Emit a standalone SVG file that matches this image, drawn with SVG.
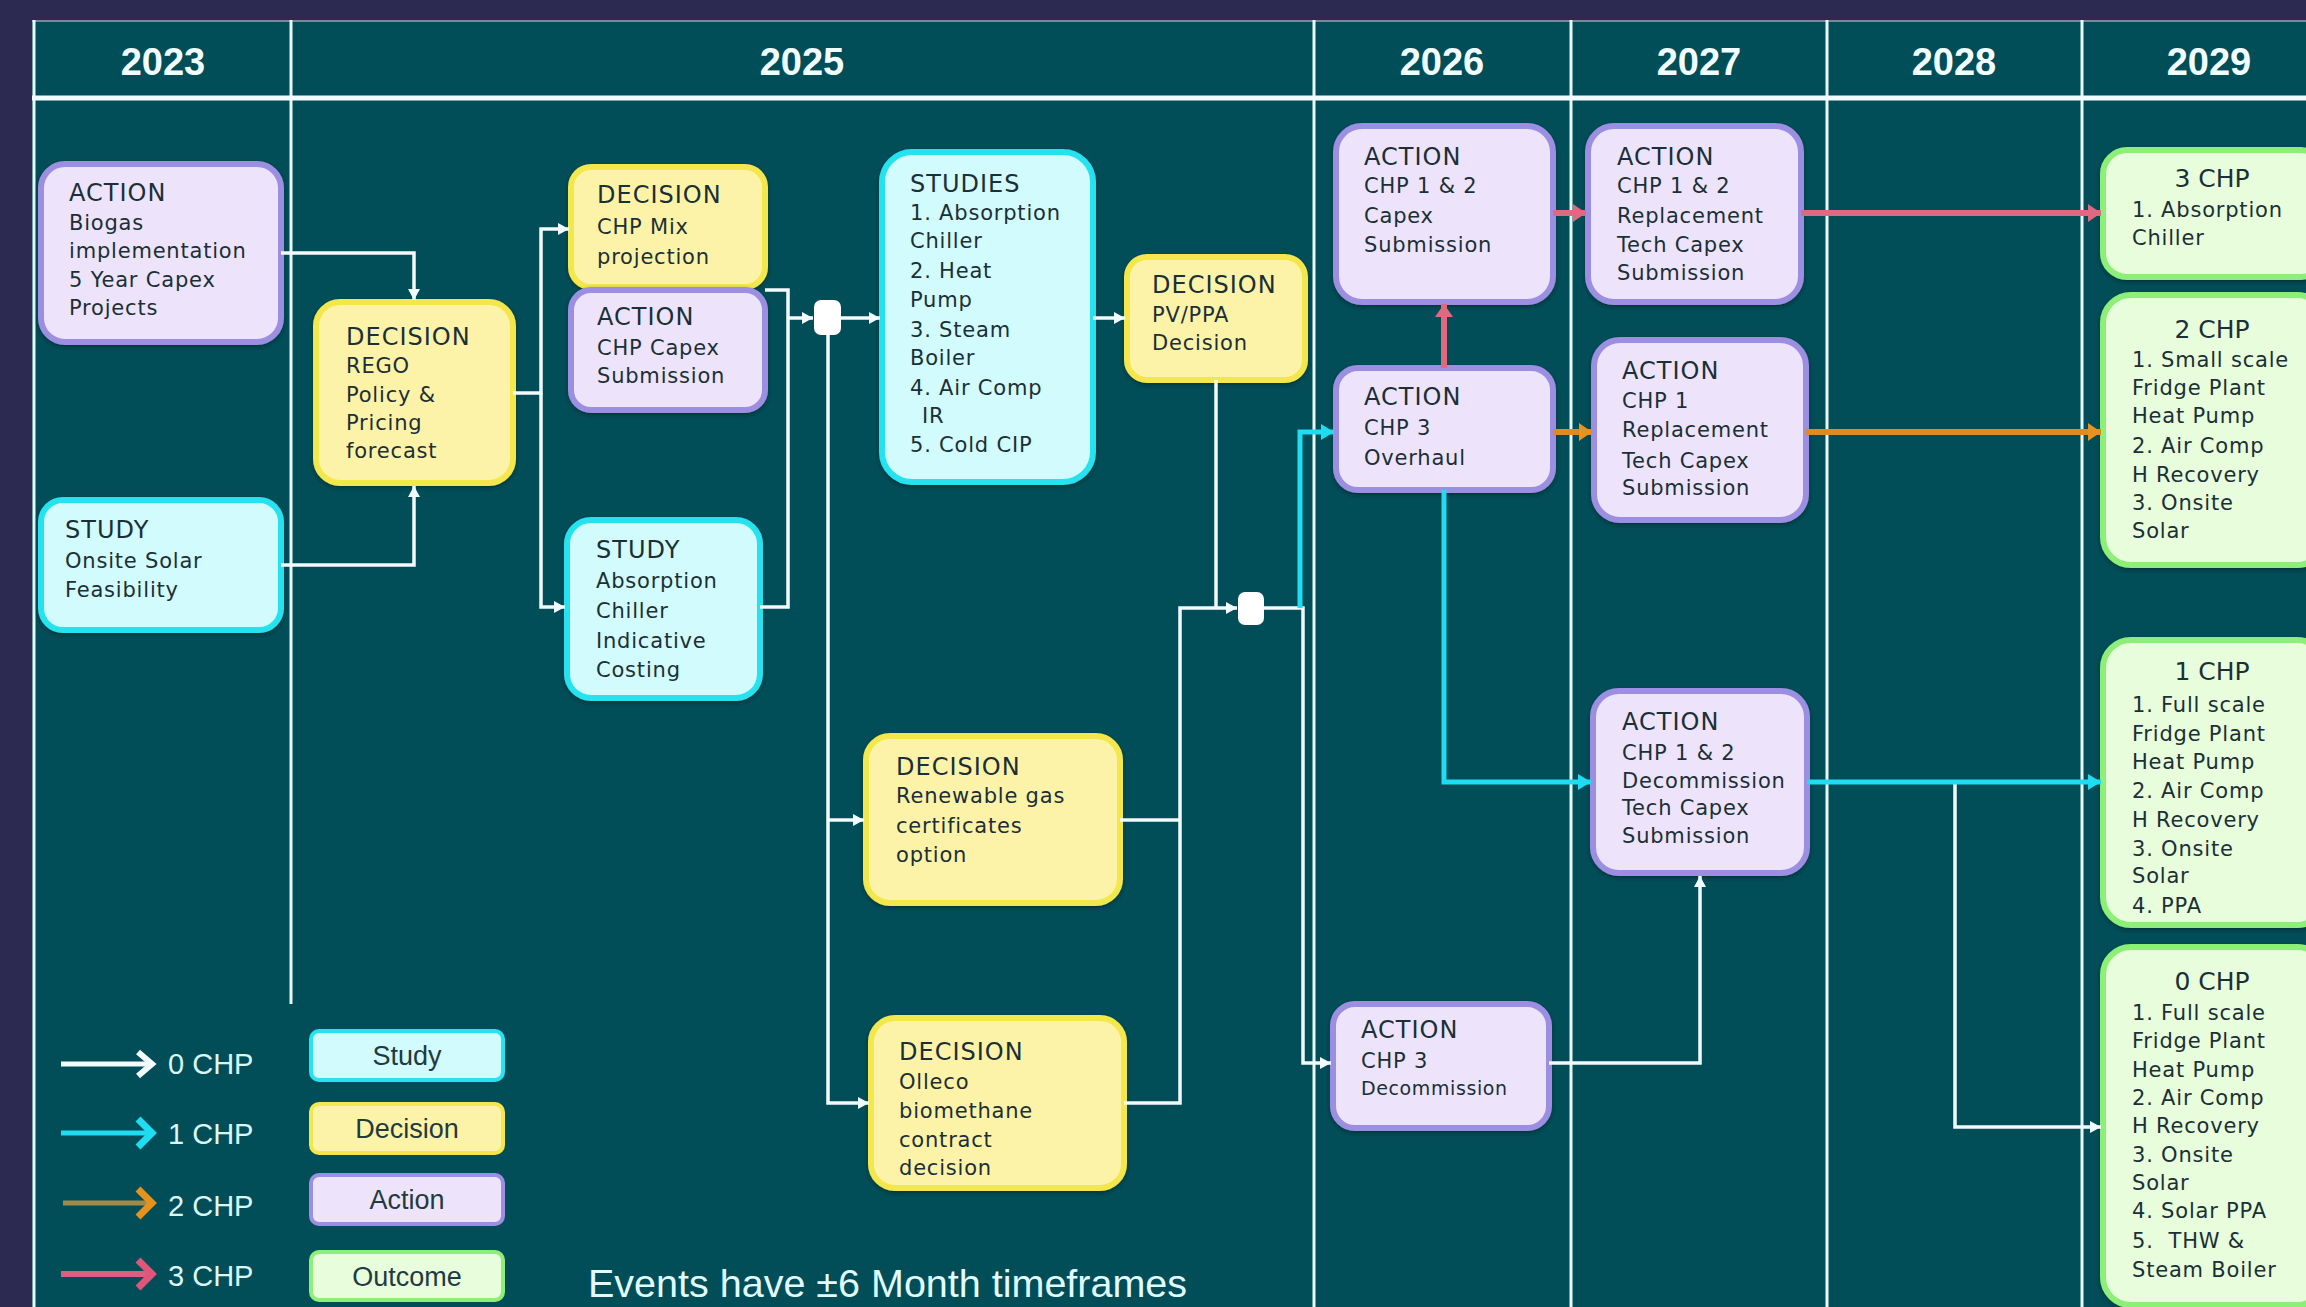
<svg xmlns="http://www.w3.org/2000/svg" width="2306" height="1307" viewBox="0 0 2306 1307">
  <style>
    .grid { stroke: #e9f8fb; stroke-width: 3; fill: none; }
    .year { font-family: "Liberation Sans", Arial, sans-serif; font-weight: bold; font-size: 38px; fill: #f2fdff; text-anchor: middle; }
    .box { stroke-width: 6; filter: url(#shadow); }
    .action { fill: #ede4fb; stroke: #9c8fe2; }
    .study { fill: #d2fbfd; stroke: #27e2ef; }
    .decision { fill: #fdf3a8; stroke: #f3e74c; }
    .outcome { fill: #e7fddb; stroke: #8def78; }
    .t { font-family: "DejaVu Sans", Verdana, sans-serif; fill: #1b2f36; }
    .h { font-size: 24px; letter-spacing: 1px; }
    .b { font-size: 21px; letter-spacing: 0.8px; }
    .oh { font-size: 25px; text-anchor: middle; }
    .c0 { fill: none; stroke: #f2fbff; stroke-width: 3.5; }
    .c1 { fill: none; stroke: #1fdcf0; stroke-width: 5; }
    .c2 { fill: none; stroke: #e08b22; stroke-width: 6; }
    .c3 { fill: none; stroke: #e0687f; stroke-width: 6; }
    .junction { fill: #ffffff; }
    .lg { font-family: "Liberation Sans", Arial, sans-serif; font-size: 29px; fill: #dcf6f4; }
    .lgbox { stroke-width: 4; }
    .lgtxt { font-family: "Liberation Sans", Arial, sans-serif; font-size: 27px; fill: #1f3a40; text-anchor: middle; }
    .note { font-family: "Liberation Sans", Arial, sans-serif; font-size: 39.5px; fill: #e2fbff; }
  </style>
  <defs>
    <filter id="shadow" x="-10%" y="-10%" width="120%" height="120%">
      <feDropShadow dx="0" dy="2" stdDeviation="2" flood-color="#001a1f" flood-opacity="0.55"/>
    </filter>
    <marker id="a0" markerUnits="userSpaceOnUse" markerWidth="12" markerHeight="12" refX="11" refY="6" orient="auto">
      <path d="M0,0 L11,6 L0,12 z" fill="#f2fbff"/>
    </marker>
    <marker id="a1" markerUnits="userSpaceOnUse" markerWidth="14" markerHeight="16" refX="13" refY="8" orient="auto">
      <path d="M0,0 L13,8 L0,16 z" fill="#1fdcf0"/>
    </marker>
    <marker id="a2" markerUnits="userSpaceOnUse" markerWidth="14" markerHeight="18" refX="13" refY="9" orient="auto">
      <path d="M0,0 L13,9 L0,18 z" fill="#e8931e"/>
    </marker>
    <marker id="a3" markerUnits="userSpaceOnUse" markerWidth="14" markerHeight="18" refX="13" refY="9" orient="auto">
      <path d="M0,0 L13,9 L0,18 z" fill="#e0687f"/>
    </marker>
  </defs>

  <!-- page and timeline panel -->
  <rect x="0" y="0" width="2306" height="1307" fill="#2c2a50"/>
  <rect x="32" y="20" width="2274" height="1287" fill="#014e59"/>
  <line x1="32" y1="21" x2="2306" y2="21" stroke="#7d8699" stroke-width="2"/>

  <!-- year columns -->
  <g id="timeline">
    <line class="grid" x1="34" y1="20" x2="34" y2="1307"/>
    <line class="grid" x1="291" y1="20" x2="291" y2="1004"/>
    <line class="grid" x1="1314" y1="20" x2="1314" y2="1307"/>
    <line class="grid" x1="1571" y1="20" x2="1571" y2="1307"/>
    <line class="grid" x1="1827" y1="20" x2="1827" y2="1307"/>
    <line class="grid" x1="2082" y1="20" x2="2082" y2="1307"/>
    <line x1="32" y1="98" x2="2306" y2="98" stroke="#f2fcff" stroke-width="5"/>
    <text class="year" x="163" y="75">2023</text>
    <text class="year" x="802" y="75">2025</text>
    <text class="year" x="1442" y="75">2026</text>
    <text class="year" x="1699" y="75">2027</text>
    <text class="year" x="1954" y="75">2028</text>
    <text class="year" x="2209" y="75">2029</text>
  </g>

  <!-- nodes -->
  <g id="n-biogas">
    <rect class="box action" x="41" y="164" width="240" height="178" rx="24"/>
    <text class="t"><tspan class="h" x="69" y="201">ACTION</tspan><tspan class="b" x="69" y="230">Biogas</tspan><tspan class="b" x="69" y="258">implementation</tspan><tspan class="b" x="69" y="287">5 Year Capex</tspan><tspan class="b" x="69" y="315">Projects</tspan></text>
  </g>
  <g id="n-solar">
    <rect class="box study" x="41" y="500" width="240" height="130" rx="22"/>
    <text class="t"><tspan class="h" x="65" y="538">STUDY</tspan><tspan class="b" x="65" y="568">Onsite Solar</tspan><tspan class="b" x="65" y="597">Feasibility</tspan></text>
  </g>
  <g id="n-rego">
    <rect class="box decision" x="316" y="302" width="197" height="181" rx="24"/>
    <text class="t"><tspan class="h" x="346" y="345">DECISION</tspan><tspan class="b" x="346" y="373">REGO</tspan><tspan class="b" x="346" y="402">Policy &amp;</tspan><tspan class="b" x="346" y="430">Pricing</tspan><tspan class="b" x="346" y="458">forecast</tspan></text>
  </g>
  <g id="n-chp-mix">
    <rect class="box decision" x="571" y="167" width="194" height="120" rx="20"/>
    <text class="t"><tspan class="h" x="597" y="203">DECISION</tspan><tspan class="b" x="597" y="234">CHP Mix</tspan><tspan class="b" x="597" y="264">projection</tspan></text>
  </g>
  <g id="n-chp-capex">
    <rect class="box action" x="571" y="290" width="194" height="120" rx="20"/>
    <text class="t"><tspan class="h" x="597" y="325">ACTION</tspan><tspan class="b" x="597" y="355">CHP Capex</tspan><tspan class="b" x="597" y="383">Submission</tspan></text>
  </g>
  <g id="n-absorption-study">
    <rect class="box study" x="567" y="520" width="193" height="178" rx="24"/>
    <text class="t"><tspan class="h" x="596" y="558">STUDY</tspan><tspan class="b" x="596" y="588">Absorption</tspan><tspan class="b" x="596" y="618">Chiller</tspan><tspan class="b" x="596" y="648">Indicative</tspan><tspan class="b" x="596" y="677">Costing</tspan></text>
  </g>
  <g id="n-studies">
    <rect class="box study" x="882" y="152" width="211" height="330" rx="30"/>
    <text class="t"><tspan class="h" x="910" y="192">STUDIES</tspan><tspan class="b" x="910" y="220">1. Absorption</tspan><tspan class="b" x="910" y="248">Chiller</tspan><tspan class="b" x="910" y="278">2. Heat</tspan><tspan class="b" x="910" y="307">Pump</tspan><tspan class="b" x="910" y="337">3. Steam</tspan><tspan class="b" x="910" y="365">Boiler</tspan><tspan class="b" x="910" y="395">4. Air Comp</tspan><tspan class="b" x="922" y="423">IR</tspan><tspan class="b" x="910" y="452">5. Cold CIP</tspan></text>
  </g>
  <g id="n-pv-ppa">
    <rect class="box decision" x="1127" y="257" width="178" height="123" rx="20"/>
    <text class="t"><tspan class="h" x="1152" y="293">DECISION</tspan><tspan class="b" x="1152" y="322">PV/PPA</tspan><tspan class="b" x="1152" y="350">Decision</tspan></text>
  </g>
  <g id="n-renewable-gas">
    <rect class="box decision" x="866" y="736" width="254" height="167" rx="24"/>
    <text class="t"><tspan class="h" x="896" y="775">DECISION</tspan><tspan class="b" x="896" y="803">Renewable gas</tspan><tspan class="b" x="896" y="833">certificates</tspan><tspan class="b" x="896" y="862">option</tspan></text>
  </g>
  <g id="n-biomethane">
    <rect class="box decision" x="871" y="1018" width="253" height="170" rx="24"/>
    <text class="t"><tspan class="h" x="899" y="1060">DECISION</tspan><tspan class="b" x="899" y="1089">Olleco</tspan><tspan class="b" x="899" y="1118">biomethane</tspan><tspan class="b" x="899" y="1147">contract</tspan><tspan class="b" x="899" y="1175">decision</tspan></text>
  </g>
  <g id="n-chp12-capex">
    <rect class="box action" x="1336" y="126" width="217" height="176" rx="26"/>
    <text class="t"><tspan class="h" x="1364" y="165">ACTION</tspan><tspan class="b" x="1364" y="193">CHP 1 &amp; 2</tspan><tspan class="b" x="1364" y="223">Capex</tspan><tspan class="b" x="1364" y="252">Submission</tspan></text>
  </g>
  <g id="n-chp3-overhaul">
    <rect class="box action" x="1336" y="368" width="217" height="122" rx="22"/>
    <text class="t"><tspan class="h" x="1364" y="405">ACTION</tspan><tspan class="b" x="1364" y="435">CHP 3</tspan><tspan class="b" x="1364" y="465">Overhaul</tspan></text>
  </g>
  <g id="n-chp3-decommission">
    <rect class="box action" x="1333" y="1004" width="216" height="124" rx="22"/>
    <text class="t"><tspan class="h" x="1361" y="1038">ACTION</tspan><tspan class="b" x="1361" y="1068">CHP 3</tspan><tspan x="1361" y="1095" font-size="19px" letter-spacing="0.6px">Decommission</tspan></text>
  </g>
  <g id="n-chp12-replacement">
    <rect class="box action" x="1588" y="126" width="213" height="176" rx="26"/>
    <text class="t"><tspan class="h" x="1617" y="165">ACTION</tspan><tspan class="b" x="1617" y="193">CHP 1 &amp; 2</tspan><tspan class="b" x="1617" y="223">Replacement</tspan><tspan class="b" x="1617" y="252">Tech Capex</tspan><tspan class="b" x="1617" y="280">Submission</tspan></text>
  </g>
  <g id="n-chp1-replacement">
    <rect class="box action" x="1594" y="340" width="212" height="180" rx="26"/>
    <text class="t"><tspan class="h" x="1622" y="379">ACTION</tspan><tspan class="b" x="1622" y="408">CHP 1</tspan><tspan class="b" x="1622" y="437">Replacement</tspan><tspan class="b" x="1622" y="468">Tech Capex</tspan><tspan class="b" x="1622" y="495">Submission</tspan></text>
  </g>
  <g id="n-chp12-decommission">
    <rect class="box action" x="1593" y="691" width="214" height="182" rx="26"/>
    <text class="t"><tspan class="h" x="1622" y="730">ACTION</tspan><tspan class="b" x="1622" y="760">CHP 1 &amp; 2</tspan><tspan class="b" x="1622" y="788" letter-spacing="0.2px">Decommission</tspan><tspan class="b" x="1622" y="815">Tech Capex</tspan><tspan class="b" x="1622" y="843">Submission</tspan></text>
  </g>
  <g id="n-outcome-3chp">
    <rect class="box outcome" x="2103" y="150" width="222" height="127" rx="24"/>
    <text class="t"><tspan class="oh" x="2212" y="187">3 CHP</tspan><tspan class="b" x="2132" y="217">1. Absorption</tspan><tspan class="b" x="2132" y="245">Chiller</tspan></text>
  </g>
  <g id="n-outcome-2chp">
    <rect class="box outcome" x="2103" y="295" width="222" height="270" rx="28"/>
    <text class="t"><tspan class="oh" x="2212" y="338">2 CHP</tspan><tspan class="b" x="2132" y="367">1. Small scale</tspan><tspan class="b" x="2132" y="395">Fridge Plant</tspan><tspan class="b" x="2132" y="423">Heat Pump</tspan><tspan class="b" x="2132" y="453">2. Air Comp</tspan><tspan class="b" x="2132" y="482">H Recovery</tspan><tspan class="b" x="2132" y="510">3. Onsite</tspan><tspan class="b" x="2132" y="538">Solar</tspan></text>
  </g>
  <g id="n-outcome-1chp">
    <rect class="box outcome" x="2103" y="640" width="222" height="285" rx="28"/>
    <text class="t"><tspan class="oh" x="2212" y="680">1 CHP</tspan><tspan class="b" x="2132" y="712">1. Full scale</tspan><tspan class="b" x="2132" y="741">Fridge Plant</tspan><tspan class="b" x="2132" y="769">Heat Pump</tspan><tspan class="b" x="2132" y="798">2. Air Comp</tspan><tspan class="b" x="2132" y="827">H Recovery</tspan><tspan class="b" x="2132" y="856">3. Onsite</tspan><tspan class="b" x="2132" y="883">Solar</tspan><tspan class="b" x="2132" y="913">4. PPA</tspan></text>
  </g>
  <g id="n-outcome-0chp">
    <rect class="box outcome" x="2103" y="947" width="222" height="358" rx="28"/>
    <text class="t"><tspan class="oh" x="2212" y="990">0 CHP</tspan><tspan class="b" x="2132" y="1020">1. Full scale</tspan><tspan class="b" x="2132" y="1048">Fridge Plant</tspan><tspan class="b" x="2132" y="1077">Heat Pump</tspan><tspan class="b" x="2132" y="1105">2. Air Comp</tspan><tspan class="b" x="2132" y="1133">H Recovery</tspan><tspan class="b" x="2132" y="1162">3. Onsite</tspan><tspan class="b" x="2132" y="1190">Solar</tspan><tspan class="b" x="2132" y="1218">4. Solar PPA</tspan><tspan class="b" x="2132" y="1248" xml:space="preserve">5.  THW &amp;</tspan><tspan class="b" x="2132" y="1277" letter-spacing="0.2px">Steam Boiler</tspan></text>
  </g>
  <g id="j-merge-1">
    <rect class="junction" x="814" y="300" width="27" height="35" rx="7"/>
  </g>
  <g id="j-merge-2">
    <rect class="junction" x="1238" y="592" width="26" height="33" rx="7"/>
  </g>

  <!-- connectors: white = 0 CHP, cyan = 1 CHP, orange = 2 CHP, pink = 3 CHP -->
  <g id="connectors">
    <path class="c0" d="M281,253 H414 V300" marker-end="url(#a0)"/>
    <path class="c0" d="M281,565 H414 V486" marker-end="url(#a0)"/>
    <path class="c0" d="M513,393 H541 V229 H569" marker-end="url(#a0)"/>
    <path class="c0" d="M541,393 V607 H565" marker-end="url(#a0)"/>
    <path class="c0" d="M765,290 H788 V607 H760"/>
    <path class="c0" d="M788,318 H813" marker-end="url(#a0)"/>
    <path class="c0" d="M841,318 H880" marker-end="url(#a0)"/>
    <path class="c0" d="M828,335 V1103 H869" marker-end="url(#a0)"/>
    <path class="c0" d="M828,820 H864" marker-end="url(#a0)"/>
    <path class="c0" d="M1093,318 H1125" marker-end="url(#a0)"/>
    <path class="c0" d="M1216,380 V608"/>
    <path class="c0" d="M1120,820 H1180"/>
    <path class="c0" d="M1124,1103 H1180 V608 H1237" marker-end="url(#a0)"/>
    <path class="c0" d="M1264,608 H1303 V1063 H1331" marker-end="url(#a0)"/>
    <path class="c0" d="M1549,1063 H1700 V876" marker-end="url(#a0)"/>
    <path class="c0" d="M1955,782 V1127 H2101" marker-end="url(#a0)"/>

    <path class="c1" d="M1300,608 V432 H1334" marker-end="url(#a1)"/>
    <path class="c1" d="M1444,490 V782 H1591" marker-end="url(#a1)"/>
    <path class="c1" d="M1807,782 H2101" marker-end="url(#a1)"/>

    <path class="c2" d="M1553,432 H1592" marker-end="url(#a2)"/>
    <path class="c2" d="M1806,432 H2101" marker-end="url(#a2)"/>

    <path class="c3" d="M1444,368 V304" marker-end="url(#a3)"/>
    <path class="c3" d="M1553,213 H1586" marker-end="url(#a3)"/>
    <path class="c3" d="M1801,213 H2101" marker-end="url(#a3)"/>
  </g>

  <!-- legend -->
  <g id="legend">
    <line x1="61" y1="1064" x2="148" y2="1064" stroke="#f4fbff" stroke-width="5"/>
    <polyline points="138,1052 152,1064 138,1076" fill="none" stroke="#f4fbff" stroke-width="6"/>
    <text class="lg" x="168" y="1074">0 CHP</text>

    <line x1="61" y1="1133" x2="148" y2="1133" stroke="#1fdcf0" stroke-width="5"/>
    <polyline points="138,1119 152,1133 138,1147" fill="none" stroke="#1fdcf0" stroke-width="7"/>
    <text class="lg" x="168" y="1144">1 CHP</text>

    <line x1="63" y1="1203" x2="148" y2="1203" stroke="#a08a4a" stroke-width="5"/>
    <polyline points="138,1189 152,1203 138,1217" fill="none" stroke="#e8921e" stroke-width="7"/>
    <text class="lg" x="168" y="1216">2 CHP</text>

    <line x1="61" y1="1274" x2="148" y2="1274" stroke="#d9607e" stroke-width="6"/>
    <polyline points="138,1260 152,1274 138,1288" fill="none" stroke="#e0557a" stroke-width="7"/>
    <text class="lg" x="168" y="1286">3 CHP</text>

    <rect class="lgbox study" x="311" y="1031" width="192" height="49" rx="8"/>
    <text class="lgtxt" x="407" y="1065">Study</text>
    <rect class="lgbox decision" x="311" y="1104" width="192" height="49" rx="8"/>
    <text class="lgtxt" x="407" y="1138">Decision</text>
    <rect class="lgbox action" x="311" y="1175" width="192" height="49" rx="8"/>
    <text class="lgtxt" x="407" y="1209">Action</text>
    <rect class="lgbox outcome" x="311" y="1252" width="192" height="48" rx="8"/>
    <text class="lgtxt" x="407" y="1286">Outcome</text>

    <text class="note" x="588" y="1297">Events have ±6 Month timeframes</text>
  </g>
</svg>
